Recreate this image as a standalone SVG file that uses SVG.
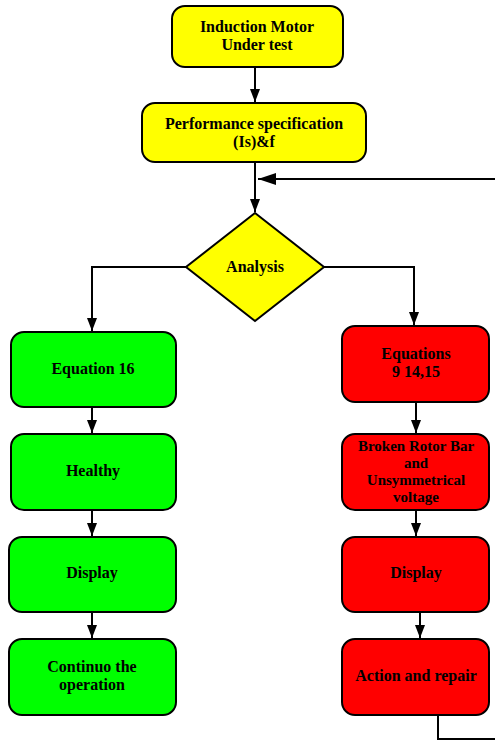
<svg xmlns="http://www.w3.org/2000/svg" width="495" height="741" viewBox="0 0 495 741">
<defs>
<marker id="ah" viewBox="0 0 13 10" refX="13" refY="5" markerWidth="13" markerHeight="10" markerUnits="userSpaceOnUse" orient="auto"><path d="M0,0 L13,5 L0,10 z" fill="#000"/></marker>
<marker id="ahL" viewBox="0 0 18 12" refX="18" refY="6" markerWidth="18" markerHeight="12" markerUnits="userSpaceOnUse" orient="auto"><path d="M0,0 L18,6 L0,12 z" fill="#000"/></marker>
<style>
.box{stroke:#000;stroke-width:2}
.y{fill:#ffff00}.g{fill:#00ff00}.r{fill:#ff0000}
.t{font-family:"Liberation Serif","Times New Roman",serif;font-weight:bold;font-size:16px;text-anchor:middle;fill:#000}
.s{font-size:15px}
.c{fill:none;stroke:#000;stroke-width:2}
</style>
</defs>
<g id="connectors">
<path class="c" d="M255,67 V102" marker-end="url(#ah)"/>
<path class="c" d="M255,162 V212" marker-end="url(#ah)"/>
<path class="c" d="M495,179 H258" marker-end="url(#ahL)"/>
<path class="c" d="M186,267 H92 V331" marker-end="url(#ah)"/>
<path class="c" d="M324,267 H414 V325" marker-end="url(#ah)"/>
<path class="c" d="M92,407 V433" marker-end="url(#ah)"/>
<path class="c" d="M92,510 V536" marker-end="url(#ah)"/>
<path class="c" d="M92,612 V638" marker-end="url(#ah)"/>
<path class="c" d="M416,402 V433" marker-end="url(#ah)"/>
<path class="c" d="M416,510 V536" marker-end="url(#ah)"/>
<path class="c" d="M420,612 V638" marker-end="url(#ah)"/>
<path class="c" d="M438,715 V739 H495"/>
</g>
<g id="n1"><rect class="box y" x="172" y="6" width="171" height="61" rx="13"/><text class="t" x="257" y="32">Induction Motor</text><text class="t" x="257" y="50">Under test</text></g>
<g id="n2"><rect class="box y" x="142" y="103" width="224" height="59" rx="13"/><text class="t" x="254" y="129">Performance specification</text><text class="t" x="254" y="147">(Is)&amp;f</text></g>
<g id="n3"><polygon class="box y" points="255,213 324,267 255,321 186,267"/><text class="t" x="255" y="272">Analysis</text></g>
<g id="g1"><rect class="box g" x="11" y="332" width="165" height="75" rx="13"/><text class="t" x="93" y="374">Equation 16</text></g>
<g id="g2"><rect class="box g" x="11" y="434" width="165" height="76" rx="13"/><text class="t" x="93" y="476">Healthy</text></g>
<g id="g3"><rect class="box g" x="9" y="537" width="167" height="75" rx="13"/><text class="t" x="92" y="578">Display</text></g>
<g id="g4"><rect class="box g" x="9" y="639" width="167" height="76" rx="13"/><text class="t" x="92" y="672">Continuo the</text><text class="t" x="92" y="690">operation</text></g>
<g id="r1"><rect class="box r" x="342" y="326" width="147" height="76" rx="13"/><text class="t" x="416" y="359">Equations</text><text class="t" x="416" y="377">9 14,15</text></g>
<g id="r2"><rect class="box r" x="342" y="434" width="147" height="76" rx="13"/><text class="t s" x="416" y="451">Broken Rotor Bar</text><text class="t s" x="416" y="468">and</text><text class="t s" x="416" y="485">Unsymmetrical</text><text class="t s" x="416" y="502">voltage</text></g>
<g id="r3"><rect class="box r" x="342" y="537" width="147" height="75" rx="13"/><text class="t" x="416" y="578">Display</text></g>
<g id="r4"><rect class="box r" x="342" y="639" width="147" height="76" rx="13"/><text class="t" x="416" y="681">Action and repair</text></g>
</svg>
